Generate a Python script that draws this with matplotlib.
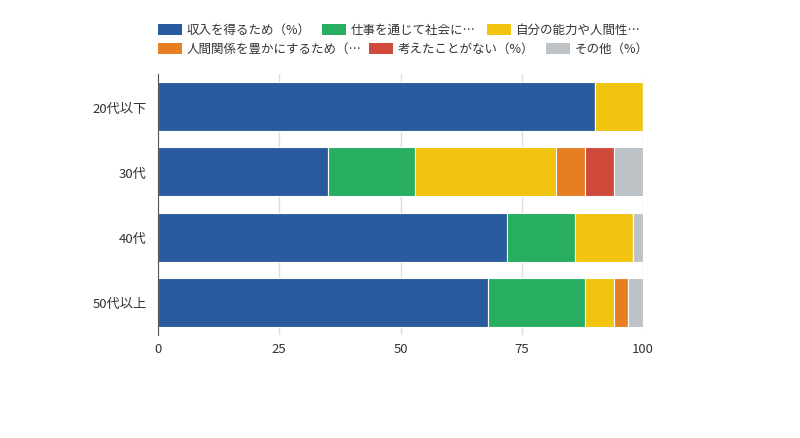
import matplotlib
matplotlib.use('Agg')
import numpy as np
import matplotlib.pyplot as plt
from matplotlib.patches import Rectangle

plt.rcParams['font.family'] = ['Noto Sans CJK JP', 'DejaVu Sans']

categories = ['20代以下', '30代', '40代', '50代以上']
series_names = ['収入を得るため（%）', '仕事を通じて社会に…', '自分の能力や人間性…',
                '人間関係を豊かにするため（…', '考えたことがない（%）', 'その他（%）']
income = [90, 35, 72, 68]
society = [0, 18, 14, 20]
ability = [10, 29, 12, 6]
relations = [0, 6, 0, 3]
never = [0, 6, 0, 0]
other = [0, 6, 2, 3]
values = [income, society, ability, relations, never, other]
colors = ['#2A5B9E', '#27AE60', '#F1C40F', '#E67E22', '#D04A3B', '#BDC3C7']

W, H = 800, 439
fig = plt.figure(figsize=(W / 100, H / 100), dpi=100)
ax = fig.add_axes([158 / W, 1 - 336 / H, (643 - 158) / W, (336 - 75) / H])

y = np.arange(len(categories))
left = np.zeros(len(categories))
for name, vals, c in zip(series_names, values, colors):
    vals = np.array(vals, dtype=float)
    ax.barh(y, vals, left=left, height=0.75, color=c, edgecolor='white',
            linewidth=0.8, label=name, zorder=3)
    left += vals

ax.set_ylim(len(categories) - 0.5, -0.5)
ax.set_xlim(0, 100)
ax.set_yticks(y)
ax.set_yticklabels(categories, fontsize=9.5, color='#333333')
ax.set_xticks([0, 25, 50, 75, 100])
ax.set_xticklabels(['0', '25', '50', '75', '100'], fontsize=9.5, color='#333333')
ax.tick_params(axis='y', length=0, pad=8)
ax.tick_params(axis='x', length=0, pad=5)
ax.grid(axis='x', color='#DDDDDD', linewidth=1, zorder=0)
for s in ['top', 'right', 'bottom']:
    ax.spines[s].set_visible(False)
ax.spines['left'].set_color('#555555')
ax.spines['left'].set_zorder(5)

# legend laid out row by row (pixel positions of swatch left edge, row centre)
legend_pos = [(158, 30), (322, 30), (487, 30), (158, 49.5), (369, 49.5), (546, 49.5)]
for (px, py), name, c in zip(legend_pos, series_names, colors):
    fig.patches.append(Rectangle((px / W, 1 - (py + 5.5) / H), 24 / W, 11 / H,
                                 transform=fig.transFigure, facecolor=c,
                                 edgecolor='none'))
    fig.text((px + 29) / W, 1 - py / H, name, fontsize=9, color='#333333',
             va='center', ha='left')

fig.savefig('out.png', dpi=100)
